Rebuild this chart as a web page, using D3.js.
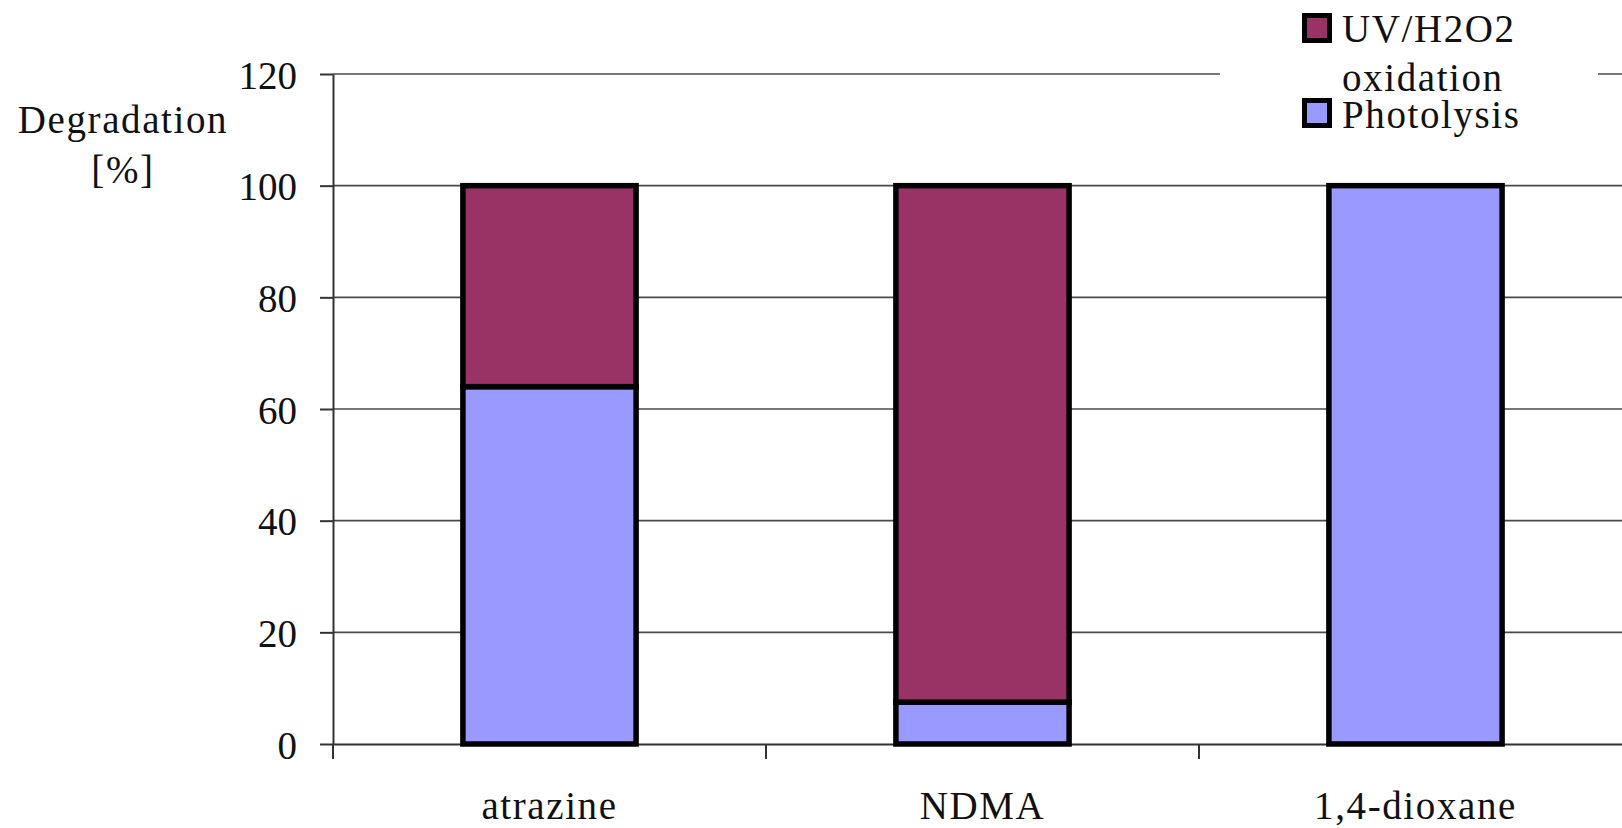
<!DOCTYPE html>
<html>
<head>
<meta charset="utf-8">
<script src="https://cdn.jsdelivr.net/npm/d3@7"></script>
<style>
  html, body { margin: 0; padding: 0; background: #fff; overflow: hidden; }
  svg { display: block; }
  text { font-family: "Liberation Serif", "Times New Roman", serif; fill: #111; }
</style>
</head>
<body>
<svg id="chart" width="1622" height="828"></svg>
<script>
// Degradation share per compound, stacked: photolysis at the bottom, UV/H2O2 oxidation on top
const categories = ["atrazine", "NDMA", "1,4-dioxane"];
const photolysis = [64, 7.5, 100];
const oxidation = [36, 92.5, 0];
const seriesNames = ["UV/H2O2 oxidation", "Photolysis"];
const yTicks = [0, 20, 40, 60, 80, 100, 120];

const colors = { oxidation: "#993366", photolysis: "#9999FF" };
const fontSize = 39;
const wordSpacing = 1.6; // letter spacing for word labels

const svg = d3.select("#chart");

const plot = { left: 333, top: 74, bottom: 744, right: 333 + 433 * 3 };

const x = d3.scaleBand().domain(categories).range([plot.left, plot.right]).paddingInner(0).paddingOuter(0);
const y = d3.scaleLinear().domain([0, 120]).range([plot.bottom, plot.top]);

// horizontal gridlines
svg.append("g")
  .selectAll("line")
  .data(yTicks.filter(d => d > 0))
  .join("line")
  .attr("x1", plot.left).attr("x2", plot.right)
  .attr("y1", d => y(d)).attr("y2", d => y(d))
  .attr("stroke", "#4a4a4a").attr("stroke-width", 1.6);

// y axis
const yAxis = svg.append("g")
  .attr("transform", `translate(${plot.left},0)`)
  .call(d3.axisLeft(y).tickValues(yTicks).tickSize(13).tickPadding(23).tickSizeOuter(0));
yAxis.select(".domain").attr("stroke", "#333").attr("stroke-width", 2);
yAxis.selectAll(".tick line").attr("stroke", "#333").attr("stroke-width", 2);
yAxis.selectAll(".tick text")
  .attr("font-size", fontSize).attr("font-family", "Liberation Serif").attr("fill", "#111")
  .attr("dy", "0.36em");

// x axis: baseline, boundary ticks and centred category labels
const xAxis = svg.append("g")
  .attr("transform", `translate(0,${plot.bottom})`)
  .call(d3.axisBottom(x).tickSize(0).tickPadding(0).tickSizeOuter(0));
xAxis.select(".domain").attr("stroke", "#333").attr("stroke-width", 2);
xAxis.selectAll(".tick text")
  .attr("font-size", fontSize).attr("font-family", "Liberation Serif").attr("fill", "#111")
  .attr("letter-spacing", wordSpacing)
  .attr("y", 75).attr("dy", null);

const boundaries = categories.map(c => x(c)).concat([x(categories[categories.length - 1]) + x.bandwidth()]);
xAxis.selectAll(".bound")
  .data(boundaries)
  .join("line")
  .attr("class", "bound")
  .attr("x1", d => d).attr("x2", d => d)
  .attr("y1", 0).attr("y2", 15)
  .attr("stroke", "#333").attr("stroke-width", 2);

// stacked bars
const rows = categories.map((c, i) => ({ category: c, photolysis: photolysis[i], oxidation: oxidation[i] }));
const stack = d3.stack().keys(["photolysis", "oxidation"]);
const stacked = stack(rows);
const barW = x.bandwidth() * 0.4;

svg.append("g")
  .selectAll("g")
  .data(stacked)
  .join("g")
  .attr("fill", d => colors[d.key])
  .selectAll("rect")
  .data(d => d.filter(s => s[1] - s[0] > 0))
  .join("rect")
  .attr("x", d => x(d.data.category) + (x.bandwidth() - barW) / 2)
  .attr("width", barW)
  .attr("y", d => y(d[1]))
  .attr("height", d => y(d[0]) - y(d[1]))
  .attr("stroke", "#000")
  .attr("stroke-width", 5.5);

// y axis title
const yTitle = svg.append("text")
  .attr("text-anchor", "middle")
  .attr("font-size", fontSize)
  .attr("letter-spacing", wordSpacing);
yTitle.append("tspan").attr("x", 123).attr("y", 133).text("Degradation");
yTitle.append("tspan").attr("x", 123).attr("y", 183).text("[%]");

// legend
const legend = svg.append("g");
legend.append("rect")
  .attr("x", 1220).attr("y", 0).attr("width", 378).attr("height", 140)
  .attr("fill", "#fff");

const legendItems = [
  { key: "oxidation", lines: ["UV/H2O2", "oxidation"], swatchY: 13, textY: 42 },
  { key: "photolysis", lines: ["Photolysis"], swatchY: 98, textY: 128 }
];
legendItems.forEach(item => {
  legend.append("rect")
    .attr("x", 1304.5).attr("y", item.swatchY + 2.5)
    .attr("width", 25).attr("height", 25)
    .attr("fill", colors[item.key])
    .attr("stroke", "#000").attr("stroke-width", 5);
  const t = legend.append("text").attr("font-size", fontSize).attr("letter-spacing", wordSpacing);
  item.lines.forEach((line, j) => {
    t.append("tspan").attr("x", 1342).attr("y", item.textY + j * 49).text(line);
  });
});
</script>
</body>
</html>
